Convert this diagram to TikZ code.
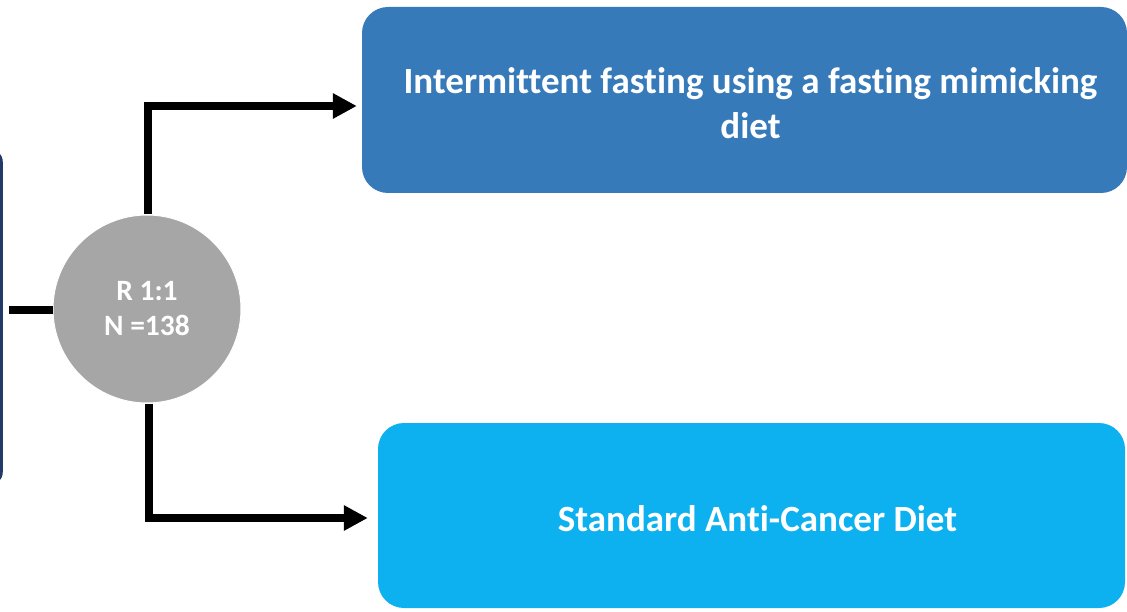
\documentclass[tikz,border=0pt]{standalone}
\usepackage{fontspec}
\setmainfont[Ligatures=NoCommon]{Carlito}
\usetikzlibrary{arrows.meta}
\definecolor{navybox}{RGB}{34,58,104}
\definecolor{topblue}{RGB}{55,122,185}
\definecolor{lightblue}{RGB}{13,177,239}
\definecolor{circgray}{RGB}{166,166,166}
\tikzset{
  armbox/.style={rounded corners=26pt, inner sep=0pt},
  armtext/.style={text=white, font=\fontsize{37}{45}\selectfont\bfseries, align=center, inner sep=0pt},
  conn/.style={line width=8pt, draw=black},
  arrowconn/.style={conn, -{Triangle[length=24pt,width=24pt]}},
}
\begin{document}
\begin{tikzpicture}[x=1pt,y=-1pt]
\useasboundingbox (0,0) rectangle (1127,612);
\fill[white] (0,0) rectangle (1127,612);
% partially visible left box
\node[fill=navybox, rounded corners=14pt, minimum width=200pt, minimum height=338pt, inner sep=0pt, anchor=east] (elig) at (3,317) {};
% randomisation circle
\node[circle, fill=circgray, draw=white, line width=1pt, minimum size=188pt, inner sep=0pt, text=white, font=\fontsize{29.5}{35}\selectfont\bfseries, align=center] (r) at (147,309) {R 1:1\\N =138};
% arm boxes
\node[armbox, fill=topblue, minimum width=765pt, minimum height=186pt,
  label={[armtext, xshift=6pt, yshift=-3pt]center:Intermittent fasting using a fasting mimicking\\diet}] (ifd) at (744.5,100) {};
\node[armbox, fill=lightblue, minimum width=747pt, minimum height=185pt,
  label={[armtext, xshift=6pt, yshift=-3pt]center:Standard Anti-Cancer Diet}] (std) at (751.5,515.5) {};
% connectors
\coordinate (tc) at (148,106);
\coordinate (bc) at (149,518);
\draw[conn, shorten <=6pt] (elig.east |- 0,310.5) -- (r.west |- 0,310.5);
\draw[arrowconn, shorten >=5pt] (r.north -| tc) -- ([yshift=-4pt]tc) -- (tc) -- (ifd.west |- tc);
\draw[arrowconn, shorten >=10pt] (r.south -| bc) -- ([yshift=4pt]bc) -- (bc) -- (std.west |- bc);
\end{tikzpicture}
\end{document}
